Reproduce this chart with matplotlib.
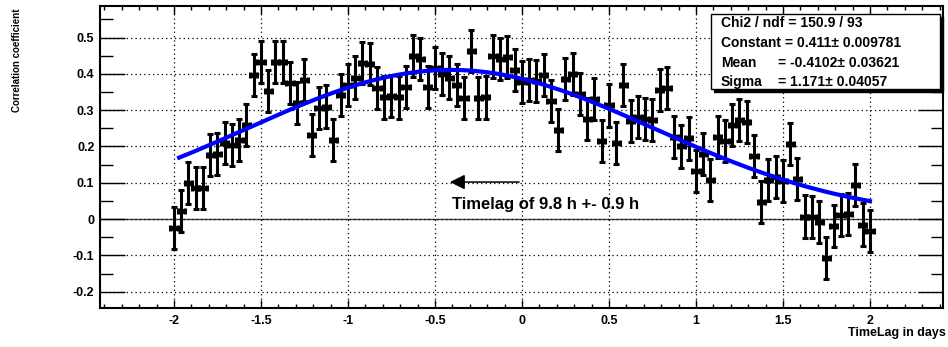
import numpy as np
import matplotlib
matplotlib.use('Agg')
import matplotlib.pyplot as plt
from matplotlib.ticker import MultipleLocator, FixedLocator, FixedFormatter
from matplotlib.patches import Rectangle

##########################################################################
# Style
#-------------------------------------------------------------------------
plt.rcParams['font.family'] = ['Liberation Sans', 'DejaVu Sans']
plt.rcParams['font.weight'] = 'bold'

W, H, DPI = 948, 347, 100

##########################################################################
# Data
#-------------------------------------------------------------------------
# time lag, hourly steps from -48 h to +48 h, in days
lag_hours = np.arange(-48, 49)
lag_days = lag_hours / 24.0

corr = [-0.025, 0.022, 0.099, 0.085, 0.085, 0.177, 0.180, 0.210, 0.205, 0.218,
        0.260, 0.396, 0.433, 0.353, 0.433, 0.433, 0.374, 0.319, 0.383, 0.231,
        0.305, 0.310, 0.218, 0.342, 0.370, 0.390, 0.430, 0.428, 0.360, 0.335,
        0.340, 0.335, 0.365, 0.450, 0.440, 0.365, 0.415, 0.400, 0.390, 0.370,
        0.333, 0.462, 0.333, 0.335, 0.448, 0.441, 0.446, 0.410, 0.378, 0.383,
        0.380, 0.397, 0.326, 0.245, 0.385, 0.400, 0.345, 0.275, 0.332, 0.216,
        0.313, 0.210, 0.370, 0.270, 0.280, 0.275, 0.273, 0.355, 0.360, 0.225,
        0.200, 0.222, 0.133, 0.180, 0.107, 0.225, 0.216, 0.260, 0.272, 0.267,
        0.173, 0.048, 0.107, 0.115, 0.105, 0.208, 0.110, 0.007, 0.005, -0.007,
        -0.108, -0.020, 0.012, 0.015, 0.095, -0.015, -0.032]
corr_err = 0.058

# gaussian fit result
fit_const, fit_mean, fit_sigma = 0.411, -0.4102, 1.171
fit_range = (-1.97, 2.0)

stats_lines = ['Chi2 / ndf = 150.9 / 93', 'Constant = 0.411\u00b1 0.009781']
stats_names = ['Mean', 'Sigma']
stats_vals = ['= -0.4102\u00b1 0.03621', '= 1.171\u00b1 0.04057']

xticks = [-2, -1.5, -1, -0.5, 0, 0.5, 1, 1.5, 2]
xtick_labels = ['-2', '-1.5', '-1', '-0.5', '0', '0.5', '1', '1.5', '2']
yticks = [-0.2, -0.1, 0, 0.1, 0.2, 0.3, 0.4, 0.5]
ytick_labels = ['-0.2', '-0.1', '0', '0.1', '0.2', '0.3', '0.4', '0.5']

note = 'Timelag of 9.8 h +- 0.9 h'

##########################################################################
# Figure
#-------------------------------------------------------------------------
fig = plt.figure(figsize=(W / DPI, H / DPI), dpi=DPI)
l, r, t, b = 100, 943, 6, 308
ax = fig.add_axes([l / W, 1 - b / H, (r - l) / W, (b - t) / H])
ax.set_xlim(-2.425, 2.42)
ax.set_ylim(-0.245, 0.587)

for s in ax.spines.values():
    s.set_linewidth(1.5)

# ticks ROOT-like: inside, all four sides
ax.xaxis.set_major_locator(FixedLocator(xticks))
ax.xaxis.set_major_formatter(FixedFormatter(xtick_labels))
ax.xaxis.set_minor_locator(MultipleLocator(0.1))
ax.yaxis.set_major_locator(FixedLocator(yticks))
ax.yaxis.set_major_formatter(FixedFormatter(ytick_labels))
ax.yaxis.set_minor_locator(MultipleLocator(0.05))
ax.tick_params(which='both', direction='in', top=True, right=True, width=1)
ax.tick_params(axis='x', which='major', length=6, pad=5, labelsize=9)
ax.tick_params(axis='x', which='minor', length=3)
ax.tick_params(axis='y', which='major', length=18, pad=4, labelsize=9)
ax.tick_params(axis='y', which='minor', length=9)

ax.grid(True, which='major', color='black', linestyle=(0, (1, 2.5)), linewidth=0.9)
ax.axhline(0, color='#444444', linewidth=1.0, zorder=1)

#-------------------------------------------------------------------------
# Points + fit
#-------------------------------------------------------------------------
ax.errorbar(lag_days, corr, yerr=corr_err, xerr=1 / 48., fmt='s', color='black',
            ms=3.5, elinewidth=2.2, capsize=2, capthick=2.2, zorder=3)

xf = np.linspace(fit_range[0], fit_range[1], 400)
yf = fit_const * np.exp(-0.5 * ((xf - fit_mean) / fit_sigma) ** 2)
ax.plot(xf, yf, color='#0000ff', linewidth=3, zorder=4)

#-------------------------------------------------------------------------
# Arrow + note
#-------------------------------------------------------------------------
ax.annotate('', xy=(-0.43, 0.102), xytext=(0.0, 0.102),
            arrowprops=dict(arrowstyle='-|>,head_length=0.6,head_width=0.3',
                            color='black', lw=1.1, mutation_scale=15))
ax.text(-0.40, 0.039, note, fontsize=12, fontweight='bold', va='center', ha='left')

#-------------------------------------------------------------------------
# Axis titles
#-------------------------------------------------------------------------
fig.text(17 / W, 1 - 8 / H, 'Correlation coefficient', rotation=90,
         ha='center', va='top', fontsize=7, fontweight='bold')
fig.text(946 / W, 1 - 333 / H, 'TimeLag in days', ha='right', va='center',
         fontsize=9, fontweight='bold')

#-------------------------------------------------------------------------
# Stats box
#-------------------------------------------------------------------------
bx0, by0, bx1, by1 = 711, 14, 940, 89
fig.patches.append(Rectangle((bx0 / W + 3 / W, 1 - (by1 + 3) / H),
                             (bx1 - bx0) / W, (by1 - by0) / H,
                             transform=fig.transFigure, facecolor='black',
                             edgecolor='black', zorder=5))
fig.patches.append(Rectangle((bx0 / W, 1 - by1 / H), (bx1 - bx0) / W, (by1 - by0) / H,
                             transform=fig.transFigure, facecolor='white',
                             edgecolor='black', linewidth=1, zorder=6))
rows_y = [23, 43, 63, 82]
for i, txt in enumerate(stats_lines):
    fig.text(721 / W, 1 - rows_y[i] / H, txt, ha='left', va='center',
             fontsize=10, fontweight='bold', zorder=7)
for i, (nm, vl) in enumerate(zip(stats_names, stats_vals)):
    fig.text(721 / W, 1 - rows_y[i + 2] / H, nm, ha='left', va='center',
             fontsize=10, fontweight='bold', zorder=7)
    fig.text(778 / W, 1 - rows_y[i + 2] / H, vl, ha='left', va='center',
             fontsize=10, fontweight='bold', zorder=7)

fig.savefig('out.png', dpi=DPI)
